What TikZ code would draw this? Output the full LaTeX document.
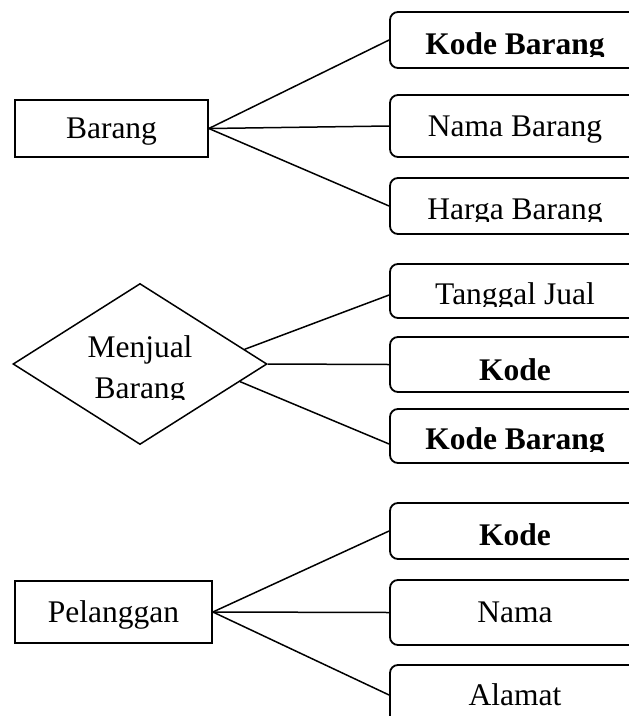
\documentclass[tikz,border=0pt]{standalone}
\usepackage{fontspec}
\setmainfont{Liberation Serif}
\usetikzlibrary{shapes.geometric}

\begin{document}
\begin{tikzpicture}[x=1pt,y=-1pt,
	font=\fontsize{31.5}{38}\selectfont,
	entitas/.style={rectangle,draw,line width=1.7pt,text depth=0pt},
	relasi/.style={diamond,draw,line width=1.5pt,inner sep=0pt,minimum width=254pt,minimum height=161pt},
	atribut/.style={rectangle,rounded corners=8pt,draw,line width=1.8pt,inner sep=0pt,minimum width=250pt},
	teks/.style={anchor=base,inner sep=0pt},
	garis/.style={line width=1.5pt}]
		
		\useasboundingbox (0,0) rectangle (629,716);
		\clip (0,0) rectangle (629,716);
		
		% entitas dan relasi
		\node(barang) at (111.5,128.5)[entitas,minimum width=193pt,minimum height=57pt]{Barang};
		\node(jual) at (140,364)[relasi]{};
		\node(pelanggan) at (113.5,612)[entitas,minimum width=197pt,minimum height=62pt]{Pelanggan};
		
		% kotak atribut
		\node(a1) at (515,40)[atribut,minimum height=56pt]{};
		\node(a2) at (515,126)[atribut,minimum height=62pt]{};
		\node(a3) at (515,206)[atribut,minimum height=56pt]{};
		\node(a4) at (515,291)[atribut,minimum height=54pt]{};
		\node(a5) at (515,364.5)[atribut,minimum height=55pt]{};
		\node(a6) at (515,436)[atribut,minimum height=54pt]{};
		\node(a7) at (515,531)[atribut,minimum height=56pt]{};
		\node(a8) at (515,612.5)[atribut,minimum height=65pt]{};
		\node(a9) at (515,695)[atribut,minimum height=60pt]{};
		
		% teks atribut
		\begin{scope}
			\clip (390,0) rectangle (629,56);
			\node(t1) at (515,54.5)[teks]{\textbf{Kode Barang}};
		\end{scope}
		\node(t2) at (515,136)[teks]{Nama Barang};
		\begin{scope}
			\clip (390,170) rectangle (629,221.5);
			\node(t3) at (515,219)[teks]{Harga Barang};
		\end{scope}
		\begin{scope}
			\clip (390,260) rectangle (629,306);
			\node(t4) at (515,304)[teks]{Tanggal Jual};
		\end{scope}
		\node(t5) at (515,380)[teks]{\textbf{Kode}};
		\begin{scope}
			\clip (390,405) rectangle (629,451);
			\node(t6) at (515,449.5)[teks]{\textbf{Kode Barang}};
		\end{scope}
		\node(t7) at (515,545)[teks]{\textbf{Kode}};
		\node(t8) at (515,622)[teks]{Nama};
		\node(t9) at (515,705)[teks]{Alamat};
		\begin{scope}
			\clip (20,300) rectangle (260,399);
			\node(m1) at (140,357)[teks]{Menjual};
			\node(m2) at (140,398)[teks]{Barang};
		\end{scope}
		
		\draw[garis] (barang.east) -- (a1.west);
		\draw[garis] (barang.east) -- (a2.west);
		\draw[garis] (barang.east) -- (a3.west);
		
		\draw[garis] (jual.8) -- ([yshift=-4pt]a4.west);
		\draw[garis] (jual.east) -- (a5.west);
		\draw[garis] (jual.-10) -- ([yshift=-8pt]a6.west);
		
		\draw[garis] (pelanggan.east) -- (a7.west);
		\draw[garis] (pelanggan.east) -- (a8.west);
		\draw[garis] (pelanggan.east) -- (a9.west);
		
	\end{tikzpicture}
\end{document}
